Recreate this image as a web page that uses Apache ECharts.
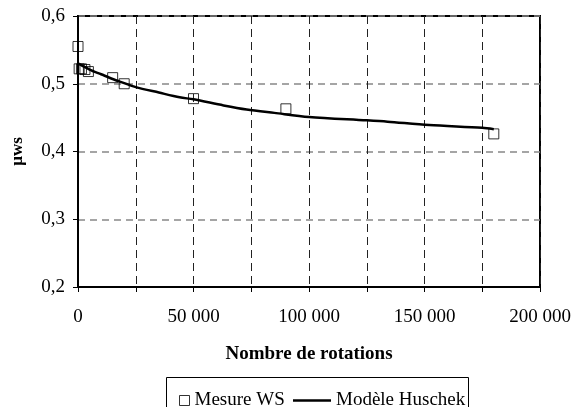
<!DOCTYPE html>
<html>
<head>
<meta charset="utf-8">
<script src="https://cdn.jsdelivr.net/npm/echarts@6/dist/echarts.min.js"></script>
<style>
  body { margin: 0; background: #fff; }
  #chart { width: 581px; height: 407px; }
</style>
</head>
<body>
<div id="chart"></div>
<script>
// measured points (Mesure WS)
var mesure_x = [0, 500, 1500, 3000, 4500, 15000, 20000, 50000, 90000, 180000];
var mesure_y = [0.555, 0.522, 0.522, 0.521, 0.518, 0.509, 0.500, 0.478, 0.463, 0.426];

// model curve (Modele Huschek)
var modele_x = [0, 5000, 10000, 15000, 20000, 25000, 35000, 44000, 50000, 63000, 73000, 85000, 100000, 125000, 134000, 152000, 175000, 180000];
var modele_y = [0.530, 0.521, 0.514, 0.507, 0.501, 0.495, 0.487, 0.480, 0.477, 0.468, 0.462, 0.457, 0.451, 0.446, 0.444, 0.439, 0.435, 0.433];

var x_ticks = [0, 50000, 100000, 150000, 200000];
var y_ticks = [0.2, 0.3, 0.4, 0.5, 0.6];

var FONT = 'Liberation Serif';

function pairs(xs, ys) {
    var out = [];
    for (var i = 0; i < xs.length; i++) out.push([xs[i], ys[i]]);
    return out;
}

function fmt_thousands(v) {
    var s = String(Math.round(v));
    return s.replace(/\B(?=(\d{3})+(?!\d))/g, ' ');
}

var myChart = echarts.init(document.getElementById('chart'), null, { renderer: 'canvas' });

var option = {
    animation: false,
    backgroundColor: '#fff',
    textStyle: { fontFamily: FONT, color: '#000' },
    grid: {
        left: 78, right: 41, top: 16, bottom: 120,
        show: true, borderColor: '#000', borderWidth: 2
    },
    xAxis: {
        type: 'value',
        min: 0, max: 200000, interval: 25000,
        name: 'Nombre de rotations',
        nameLocation: 'middle',
        nameGap: 58,
        nameTextStyle: { fontFamily: FONT, fontWeight: 'bold', fontSize: 19, color: '#000' },
        axisLine: { show: true, lineStyle: { color: '#000', width: 2 } },
        axisTick: { show: true, inside: false, length: 5, lineStyle: { color: '#000' } },
        axisLabel: {
            margin: 21, fontSize: 19, fontFamily: FONT, color: '#000',
            formatter: function (v) {
                return x_ticks.indexOf(v) >= 0 ? fmt_thousands(v) : '';
            }
        },
        splitLine: { show: true, lineStyle: { color: '#222', type: [8, 5], width: 1 } }
    },
    yAxis: {
        type: 'value',
        min: 0.2, max: 0.6, interval: 0.1,
        name: 'µws',
        nameLocation: 'middle',
        nameGap: 52,
        nameRotate: 90,
        nameTextStyle: { fontFamily: FONT, fontWeight: 'bold', fontSize: 17, color: '#000' },
        axisLine: { show: true, lineStyle: { color: '#000', width: 2 } },
        axisTick: { show: true, length: 5, lineStyle: { color: '#000' } },
        axisLabel: {
            margin: 13, fontSize: 19, fontFamily: FONT, color: '#000',
            formatter: function (v) {
                return v.toFixed(1).replace('.', ',');
            }
        },
        splitLine: { show: true, lineStyle: { color: '#888', type: [7, 5], width: 1.5 } }
    },
    legend: [{
        left: 174, top: 386,
        itemWidth: 10, itemHeight: 10, itemGap: 6,
        textStyle: { fontFamily: FONT, fontSize: 19, color: '#000' },
        data: [{ name: 'Mesure WS', icon: 'rect', itemStyle: { color: '#fff', borderColor: '#000', borderWidth: 1 } }]
    }, {
        left: 288, top: 386,
        itemWidth: 38, itemHeight: 10, itemGap: 6,
        textStyle: { fontFamily: FONT, fontSize: 19, color: '#000' },
        data: [{ name: 'Modèle Huschek', icon: 'path://M0,4H38V6.4H0Z', itemStyle: { color: '#000' } }]
    }],
    graphic: [{
        type: 'rect',
        shape: { x: 166.5, y: 377.5, width: 302, height: 32 },
        style: { fill: 'none', stroke: '#000', lineWidth: 1 },
        silent: true
    }],
    series: [{
        name: 'Modèle Huschek',
        type: 'line',
        data: pairs(modele_x, modele_y),
        smooth: 0.3,
        symbol: 'none',
        lineStyle: { color: '#000', width: 2.5 },
        itemStyle: { color: '#000' },
        z: 3
    }, {
        name: 'Mesure WS',
        type: 'scatter',
        data: pairs(mesure_x, mesure_y),
        symbol: 'rect',
        symbolSize: 10,
        itemStyle: { color: 'rgba(255,255,255,0)', borderColor: '#000', borderWidth: 1 },
        z: 4
    }]
};

myChart.setOption(option);
</script>
</body>
</html>
